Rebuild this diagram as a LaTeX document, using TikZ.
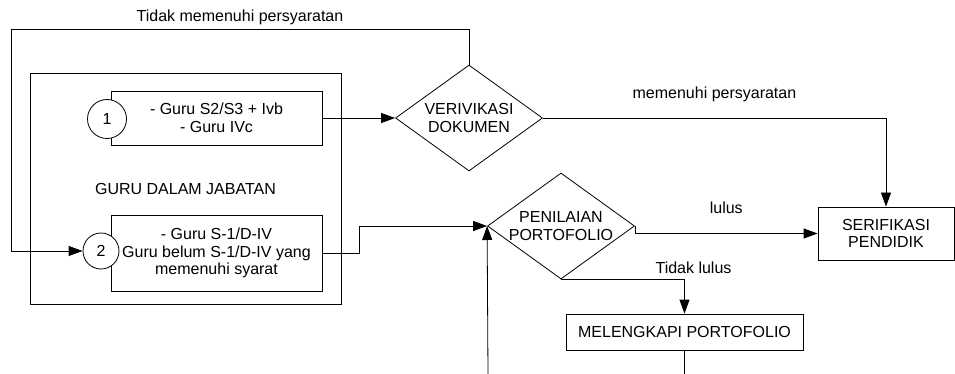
\documentclass[tikz,border=0pt]{standalone}
\usepackage{fontspec}
\setmainfont{Liberation Sans}
\usepackage{tikz}
\usetikzlibrary{arrows.meta}
\usetikzlibrary{shapes.geometric}
\tikzset{every node/.style={font=\fontsize{16}{17.5}\selectfont}}
\tikzset{box/.style={draw, align=center, inner sep=0}}
\tikzset{num/.style={draw, circle, fill=white, inner sep=0}}
\tikzset{check/.style={draw, diamond, align=center, inner sep=-2pt, minimum width=147, minimum height=106, shape aspect=1.39}}
\tikzset{flow/.style={-{Triangle[length=14pt,width=10pt]}}}

\begin{document}
\begin{tikzpicture}[x=1pt, y=-1pt, line width=0.8pt]
  \useasboundingbox (0,0) rectangle (955,374);

  \node[box, minimum width=311, minimum height=231] at (185.5,188.5) (G) {GURU DALAM JABATAN};

  \node[box, fill=white, minimum width=211, minimum height=54] at (216.5,118) (K1) {- Guru S2/S3 + Ivb\\- Guru IVc};
  \node[num, minimum size=39] at (107,119) (N1) {1};

  \node[box, fill=white, minimum width=211, minimum height=76] at (216.5,253) (K2) {- Guru S-1/D-IV\\Guru belum S-1/D-IV yang\\memenuhi syarat};
  \node[num, minimum size=36] at (101,251) (N2) {2};

  \node[check] at (469,118) (V) {VERIVIKASI\\DOKUMEN};
  \node[check] at (561,226) (P) {PENILAIAN\\PORTOFOLIO};

  \node[box, minimum width=136, minimum height=53] at (886,233.5) (S) {SERIFIKASI\\PENDIDIK};
  \node[box, minimum width=237, minimum height=36] at (684.5,332) (M) {MELENGKAPI PORTOFOLIO};

  % lines running off the bottom edge
  \coordinate (back) at (11,29);
  \coordinate (cutA) at (684.5,374);
  \coordinate (cutB) at (488,374);

  \draw[flow] (K1.east) -- (V.west);
  \draw[flow] (V.north) |- node[above, pos=0.75] {Tidak memenuhi persyaratan} (back) |- (N2.west);
  \draw[flow] (K2.east) -- ++(37,0) |- (P.west);
  \draw[flow] (V.east) -| node[above=12pt, pos=0.25] {memenuhi persyaratan} (S.north);

  \draw[flow] (P.east) |- node[above=16pt, pos=0.75] {lulus} (S.west);
  \draw[flow] (P.south) -| node[above=2pt, pos=0.5, xshift=9pt] {Tidak lulus} (M.north);

  \draw (M.south) -- (cutA);
  \draw[flow] (cutB) -- (P.west);
\end{tikzpicture}
\end{document}
